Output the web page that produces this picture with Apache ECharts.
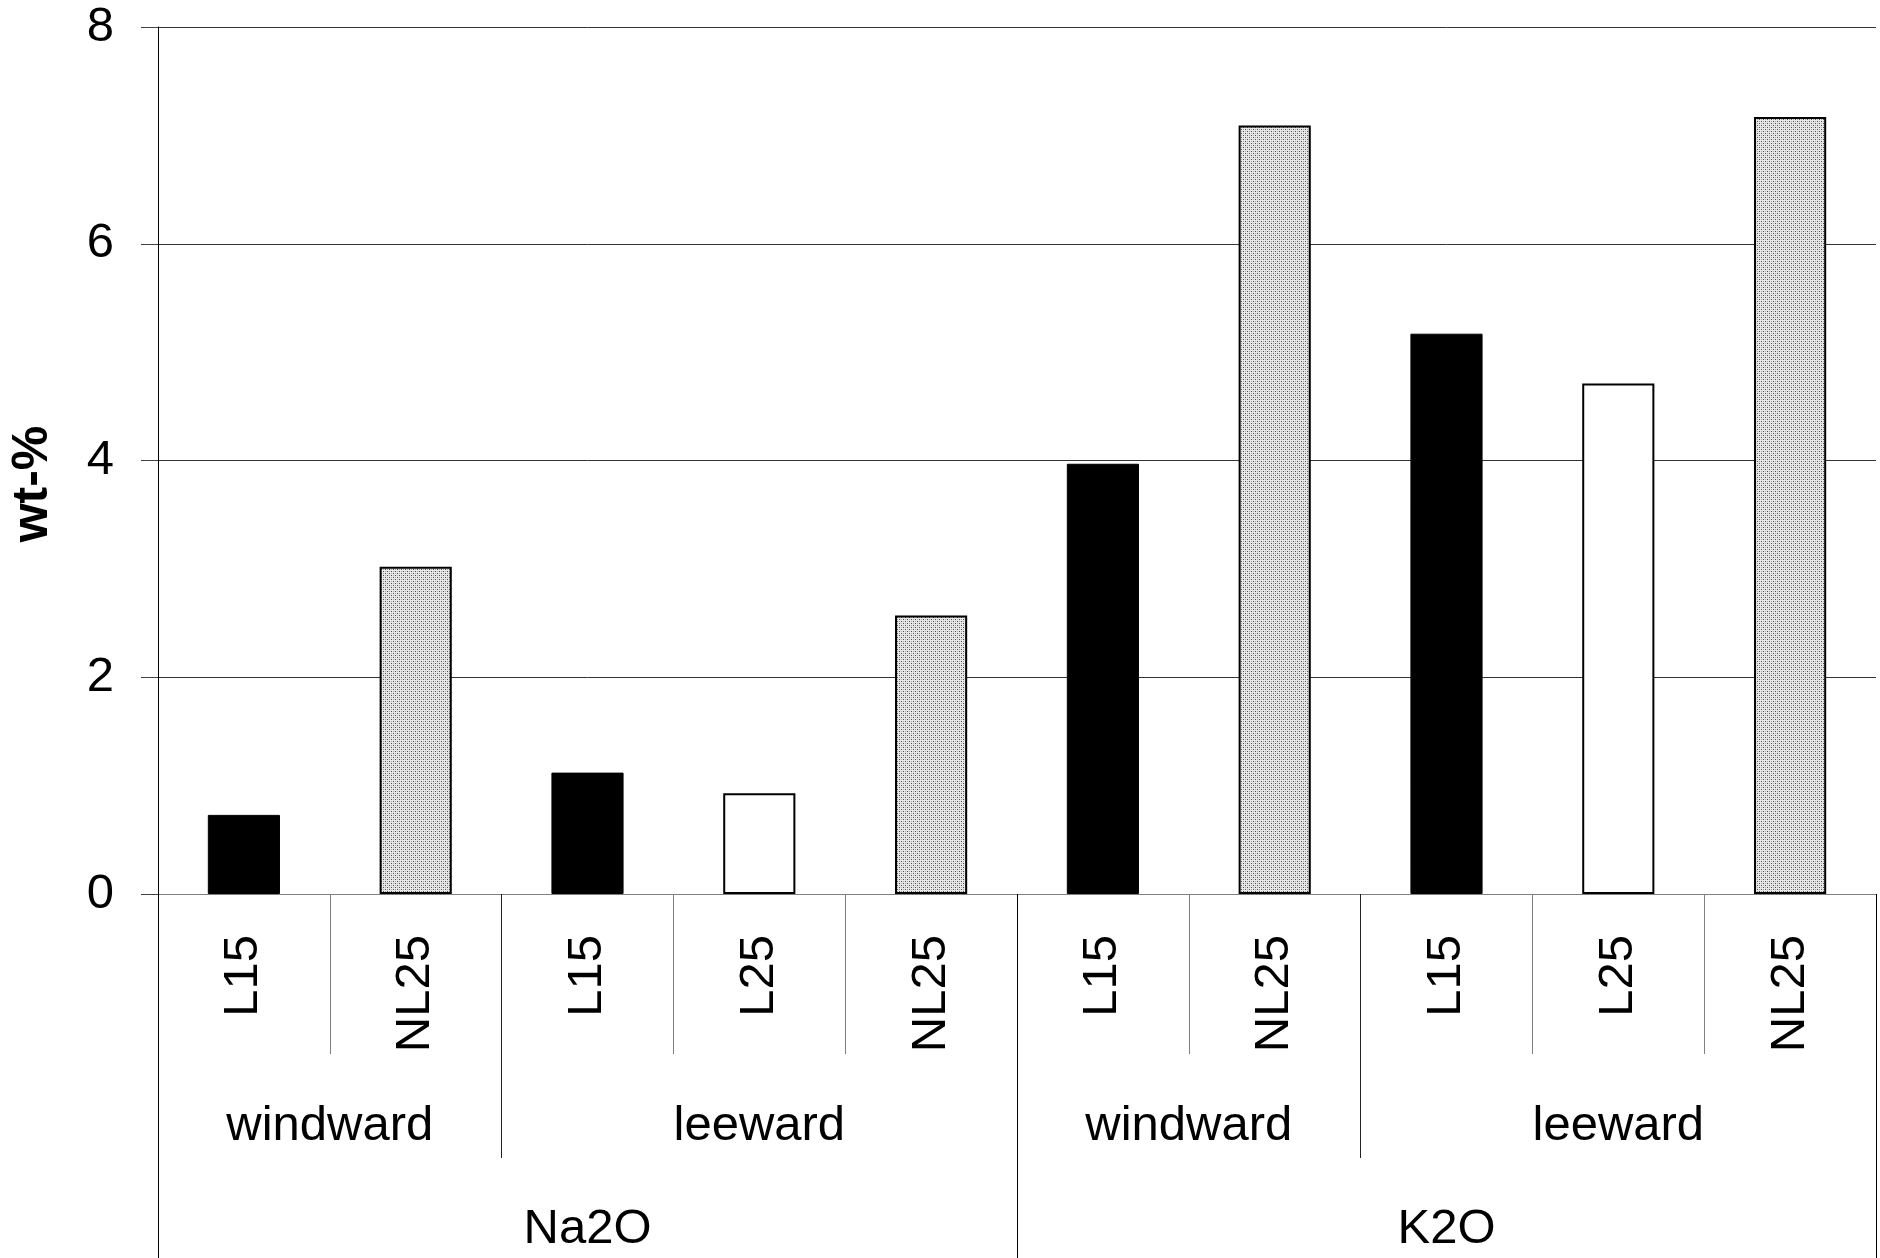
<!DOCTYPE html>
<html>
<head>
<meta charset="utf-8">
<script src="https://cdn.jsdelivr.net/npm/echarts@6/dist/echarts.min.js"></script>
<style>
  html, body { margin: 0; padding: 0; background: #fff; }
  #chart { width: 1880px; height: 1258px; }
</style>
</head>
<body>
<div id="chart"></div>
<script>
// sample names under each bar
const samples = ["L15", "NL25", "L15", "L25", "NL25", "L15", "NL25", "L15", "L25", "NL25"];
// wt-% values
const values = [0.73, 3.02, 1.12, 0.93, 2.57, 3.97, 7.09, 5.17, 4.71, 7.17];
// second row: site, with number of bars in each
const sites = ["windward", "leeward", "windward", "leeward"];
const siteSizes = [2, 3, 2, 3];
// third row: oxide
const oxides = ["Na2O", "K2O"];
const oxideSizes = [5, 5];
const yTicks = [0, 2, 4, 6, 8];

const FONT = "Liberation Sans, Arial, sans-serif";

// dotted fill for the NL25 bars
function dotPattern() {
  let c = document.createElement("canvas");
  c.width = 4;
  c.height = 4;
  let ctx = c.getContext("2d");
  ctx.fillStyle = "#e8e8e8";
  ctx.fillRect(0, 0, 4, 4);
  ctx.fillStyle = "#505050";
  ctx.fillRect(1, 1, 1, 1);
  ctx.fillRect(3, 3, 1, 1);
  ctx.fillStyle = "#a8a8a8";
  ctx.fillRect(1, 3, 1, 1);
  ctx.fillRect(3, 1, 1, 1);
  return c;
}

const barStyles = {
  L15: { color: "#000", borderColor: "#000", borderWidth: 1 },
  L25: { color: "#fff", borderColor: "#000", borderWidth: 2 },
  NL25: { color: { image: dotPattern(), repeat: "repeat" }, borderColor: "#000", borderWidth: 2 }
};

// boundaries and centres of a row of groups, in bar units
function groupLayout(sizes) {
  let bounds = [0], centers = [];
  let pos = 0;
  sizes.forEach(function(s) {
    centers.push(pos + s / 2);
    pos += s;
    bounds.push(pos);
  });
  return { bounds: bounds, centers: centers };
}
const siteLayout = groupLayout(siteSizes);
const oxideLayout = groupLayout(oxideSizes);

function groupAxis(layout, names, tickLen, labelMargin, tickColor) {
  return {
    type: "value",
    position: "bottom",
    offset: 0,
    min: 0,
    max: samples.length,
    axisLine: { show: false },
    splitLine: { show: false },
    axisTick: {
      show: true,
      length: tickLen,
      customValues: layout.bounds,
      lineStyle: { color: tickColor, width: 1 }
    },
    axisLabel: {
      show: true,
      customValues: layout.centers,
      margin: labelMargin,
      fontSize: 49,
      fontFamily: FONT,
      color: "#000",
      formatter: function(v) {
        let i = layout.centers.indexOf(v);
        return i >= 0 ? names[i] : "";
      }
    }
  };
}

let myChart = echarts.init(document.getElementById("chart"));
let option = {
  backgroundColor: "#fff",
  animation: false,
  grid: { left: 154, right: 4, top: 27, bottom: 364, containLabel: false },
  xAxis: [
    {
      type: "category",
      data: samples,
      position: "bottom",
      axisLine: { show: true, lineStyle: { color: "#808080", width: 1 } },
      axisTick: { show: true, interval: 0, length: 160, lineStyle: { color: "#808080", width: 1 } },
      axisLabel: {
        interval: 0,
        rotate: 90,
        margin: 41,
        fontSize: 49,
        fontFamily: FONT,
        color: "#000"
      },
      splitLine: { show: false }
    },
    groupAxis(siteLayout, sites, 264, 208, "#222"),
    groupAxis(oxideLayout, oxides, 380, 311, "#000")
  ],
  yAxis: {
    type: "value",
    min: yTicks[0],
    max: yTicks[yTicks.length - 1],
    interval: 2,
    name: "wt-%",
    nameLocation: "middle",
    nameRotate: 90,
    nameGap: 100,
    nameTextStyle: {
      fontSize: 50,
      fontWeight: "bold",
      fontFamily: FONT,
      color: "#000",
      padding: [0, 47, 0, 0]
    },
    axisLine: { show: true, lineStyle: { color: "#000", width: 1 } },
    axisTick: { show: true, length: 17, lineStyle: { color: "#444", width: 1 } },
    axisLabel: { margin: 44, fontSize: 49, fontFamily: FONT, color: "#000" },
    splitLine: { show: true, lineStyle: { color: "#333", width: 1 } }
  },
  series: [{
    type: "bar",
    xAxisIndex: 0,
    barWidth: "42%",
    data: values.map(function(v, i) {
      return { value: v, itemStyle: barStyles[samples[i]] };
    })
  }]
};
myChart.setOption(option);
</script>
</body>
</html>
